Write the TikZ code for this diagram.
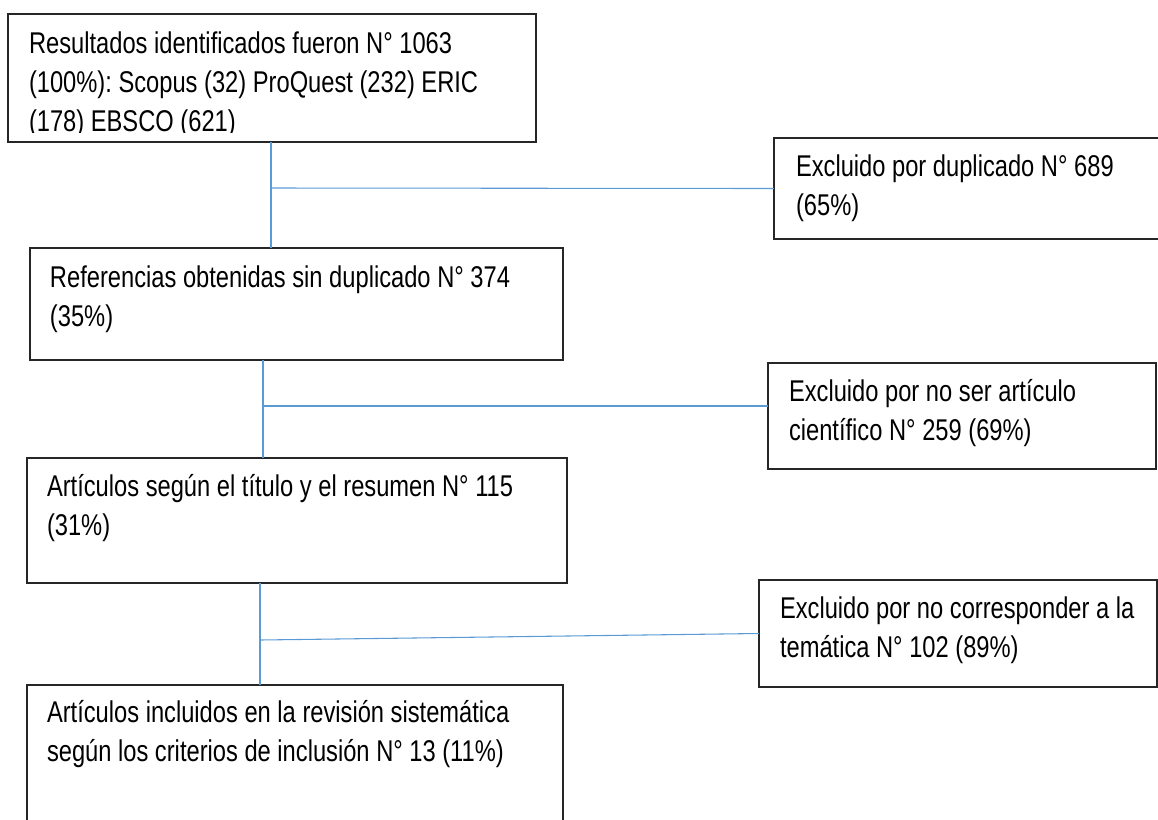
\documentclass[tikz,border=0pt]{standalone}
\usepackage{fontspec}
\setmainfont{Liberation Sans}[FakeStretch=0.79]
\definecolor{linkblue}{RGB}{91,155,213}
\frenchspacing
\begin{document}
\begin{tikzpicture}[x=0.75pt,y=-0.75pt,
  box/.style={draw=black!85, line width=0.9pt, anchor=north west, inner sep=0pt, outer sep=0pt},
  txt/.style={anchor=base west, inner sep=0pt, outer sep=0pt, align=left, font=\fontsize{22.5}{28.9}\selectfont},
  conn/.style={draw=linkblue, line width=0.8pt}]
\useasboundingbox (0,0) rectangle (1158,819);
\clip (0,0) rectangle (1158,819);
% boxes
\node[box, minimum width=396pt,   minimum height=96pt]    (B1) at (8,14)   {};
\node[box, minimum width=292.5pt, minimum height=75.75pt] (E1) at (774,138) {};
\node[box, minimum width=399.75pt,minimum height=84pt]    (B2) at (30,248) {};
\node[box, minimum width=291pt,   minimum height=79.5pt]  (E2) at (768,363) {};
\node[box, minimum width=405pt,   minimum height=93.75pt] (B3) at (27,458) {};
\node[box, minimum width=298.5pt, minimum height=80.25pt] (E3) at (759,580) {};
\node[box, minimum width=402pt,   minimum height=112.5pt] (B5) at (27,685) {};
% texts (anchor = baseline of the last line)
\begin{scope}
\clip (8,14) rectangle (536,132);
\node[txt] (T1) at (29,131) {Resultados identificados fueron N° 1063\\(100\%): Scopus (32) ProQuest (232) ERIC\\(178) EBSCO (621)};
\end{scope}
\node[txt] (TE1) at (796,215.5) {Excluido por duplicado N° 689\\(65\%)};
\node[txt] (T2) at (50,326.5) {Referencias obtenidas sin duplicado N° 374\\(35\%)};
\node[txt] (TE2) at (789,440.5) {Excluido por no ser artículo\\científico N° 259 (69\%)};
\node[txt] (T3) at (47,535.5) {Artículos según el título y el resumen N° 115\\(31\%)};
\node[txt] (TE3) at (780,657.5) {Excluido por no corresponder a la\\temática N° 102 (89\%)};
\node[txt] (T5) at (47,761.5) {Artículos incluidos en la revisión sistemática\\según los criterios de inclusión N° 13 (11\%)};
% connectors
\coordinate (k1) at (271,188);
\coordinate (k2) at (263,406);
\coordinate (k3) at (260,640);
\draw[conn] (k1 |- B1.south) -- (k1 |- B2.north);
\draw[conn] (k1) -- (E1.west);
\draw[conn] (k2 |- B2.south) -- (k2 |- B3.north);
\draw[conn] (k2) -- (E2.west |- k2);
\draw[conn] (k3 |- B3.south) -- (k3 |- B5.north);
\draw[conn] (k3) -- (E3.west);
\end{tikzpicture}
\end{document}
